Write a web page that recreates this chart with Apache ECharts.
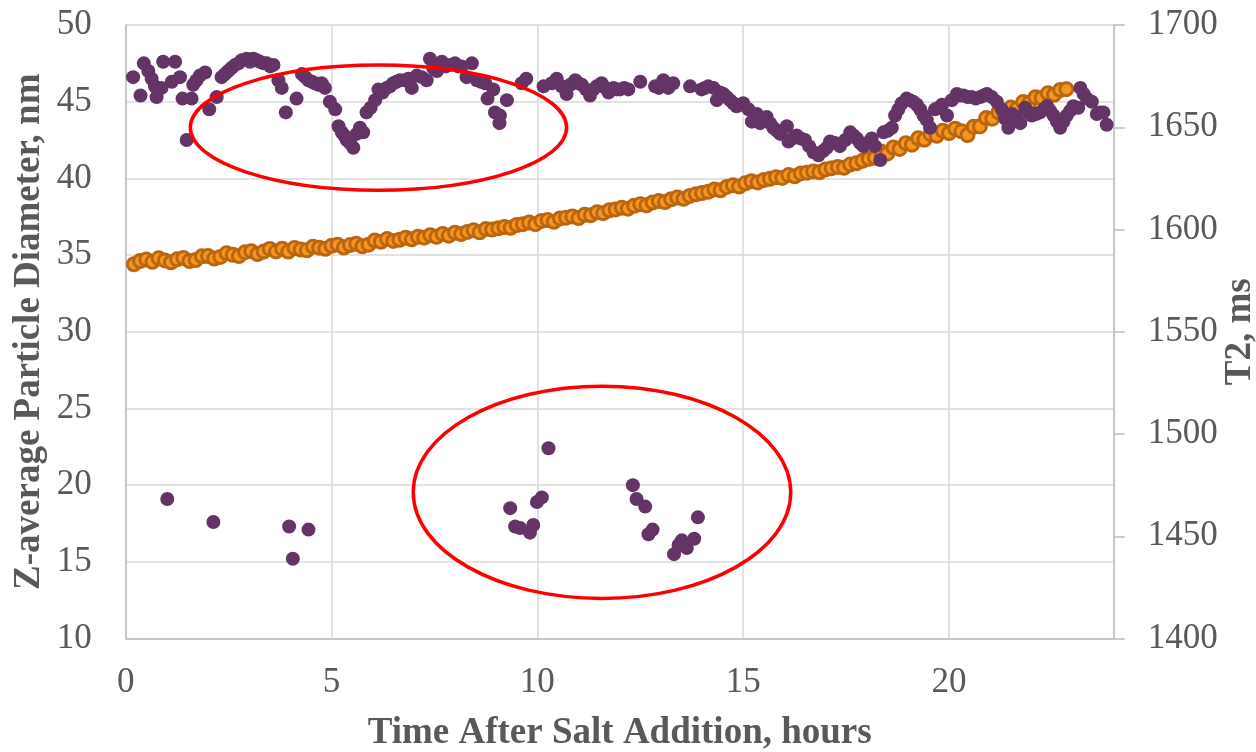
<!DOCTYPE html>
<html>
<head>
<meta charset="utf-8">
<script src="https://cdn.jsdelivr.net/npm/echarts@6/dist/echarts.min.js"></script>
<style>
  html, body { margin: 0; padding: 0; background: #fff; }
  #main { width: 1256px; height: 752px; }
</style>
</head>
<body>
<div id="main"></div>
<script>
// T2 relaxation time (right axis), hours after salt addition
const t2Hours = [
  0.20, 0.35, 0.50, 0.65, 0.80, 0.95, 1.10, 1.25, 1.40, 1.55, 1.70, 1.85, 2.00, 2.15, 2.30, 2.45,
  2.60, 2.75, 2.90, 3.05, 3.20, 3.35, 3.50, 3.65, 3.80, 3.95, 4.10, 4.25, 4.40, 4.55, 4.70, 4.85,
  5.00, 5.15, 5.30, 5.45, 5.60, 5.75, 5.90, 6.05, 6.20, 6.35, 6.50, 6.65, 6.80, 6.95, 7.10, 7.25,
  7.40, 7.55, 7.70, 7.85, 8.00, 8.15, 8.30, 8.45, 8.60, 8.75, 8.90, 9.05, 9.20, 9.35, 9.50, 9.65,
  9.80, 9.95, 10.10, 10.25, 10.40, 10.55, 10.70, 10.85, 11.00, 11.15, 11.30, 11.45, 11.60, 11.75,
  11.90, 12.05, 12.20, 12.35, 12.50, 12.65, 12.80, 12.95, 13.10, 13.25, 13.40, 13.55, 13.70, 13.85,
  14.00, 14.15, 14.30, 14.45, 14.60, 14.75, 14.90, 15.05, 15.20, 15.35, 15.50, 15.65, 15.80, 15.95,
  16.10, 16.25, 16.40, 16.55, 16.70, 16.85, 17.00, 17.15, 17.30, 17.45, 17.60, 17.75, 17.90, 18.05,
  18.20, 18.35, 18.50, 18.65, 18.80, 18.95, 19.10, 19.25, 19.40, 19.55, 19.70, 19.85, 20.00, 20.15,
  20.30, 20.45, 20.60, 20.75, 20.90, 21.05, 21.20, 21.35, 21.50, 21.65, 21.80, 21.95, 22.10, 22.25,
  22.40, 22.55, 22.70, 22.85
];
const t2Values = [
  1583.0, 1584.6, 1585.3, 1584.2, 1585.9, 1584.9, 1584.0, 1585.4, 1586.1, 1584.6, 1585.1, 1586.9, 1587.0, 1585.8, 1586.6, 1588.4,
  1587.6, 1587.0, 1588.9, 1589.4, 1588.0, 1589.2, 1590.5, 1589.3, 1590.6, 1589.2, 1591.0, 1590.2, 1589.8, 1591.6, 1591.1, 1590.6,
  1592.0, 1592.6, 1591.2, 1592.4, 1593.0, 1591.8, 1592.6, 1594.6, 1594.0, 1595.3, 1594.4, 1595.0, 1596.0, 1595.2, 1596.4, 1596.0,
  1597.2, 1596.4, 1597.8, 1597.0, 1598.4, 1597.8, 1598.8, 1599.6, 1598.6, 1600.2, 1600.0, 1600.6, 1601.2, 1600.8, 1602.2, 1602.6,
  1603.4, 1602.6, 1604.2, 1604.6, 1603.8, 1605.4, 1605.8, 1606.4, 1605.6, 1607.2, 1607.0, 1608.4, 1608.0, 1609.4,
  1609.8, 1610.6, 1610.2, 1611.6, 1612.4, 1611.8, 1613.2, 1613.9, 1613.4, 1614.8, 1615.6, 1615.0, 1616.4, 1617.2,
  1617.8, 1618.4, 1619.6, 1619.2, 1620.8, 1621.6, 1621.0, 1622.6, 1623.6, 1623.0, 1624.2, 1624.8, 1625.6, 1625.2,
  1626.6, 1626.0, 1627.4, 1627.8, 1628.4, 1628.0, 1629.4, 1630.0, 1630.6, 1630.2, 1631.8, 1632.4, 1633.6, 1634.6,
  1635.1, 1638.2, 1637.1, 1640.1, 1639.4, 1642.2, 1641.5, 1644.6, 1643.9, 1646.6, 1645.8, 1648.3, 1647.2, 1649.3,
  1648.0, 1646.2, 1650.3, 1650.4, 1654.5, 1654.2, 1657.3, 1656.6, 1659.6, 1659.0, 1662.3, 1662.0, 1664.7, 1664.3,
  1666.6, 1665.9, 1668.2, 1668.6
];

// Z-average particle diameter (left axis)
const zHours = [
  0.18, 0.36, 0.44, 0.55, 0.63, 0.71, 0.75, 0.87, 0.91, 1.01, 1.12, 1.20, 1.32, 1.38, 1.48, 1.60,
  1.64, 1.72, 1.80, 1.93, 2.03, 2.13, 2.21, 2.33, 2.41, 2.49, 2.57, 2.66, 2.74, 2.82, 2.94, 3.02,
  3.10, 3.18, 3.26, 3.35, 3.43, 3.51, 3.59, 3.71, 3.79, 3.89, 3.97, 4.06, 4.15, 4.28, 4.36, 4.44,
  4.44, 4.52, 4.60, 4.68, 4.76, 4.84, 4.96, 5.09, 5.17, 5.25, 5.31, 5.37, 5.45, 5.53, 5.61, 5.69,
  5.77, 5.85, 5.95, 6.06, 6.14, 6.24, 6.34, 6.42, 6.50, 6.58, 6.66, 6.78, 6.87, 6.95, 7.07, 7.19,
  7.31, 7.39, 7.47, 7.56, 7.68, 7.78, 7.88, 8.00, 8.08, 8.16, 8.28, 8.41, 8.53, 8.63, 8.73, 8.79,
  8.93, 8.97, 9.08, 9.09, 9.26, 9.34, 9.46, 9.58, 9.62, 9.73, 9.82, 9.90, 9.99, 10.11, 10.15, 10.27,
  10.35, 10.47, 10.59, 10.71, 10.80, 10.92, 11.00, 11.08, 11.18, 11.28, 11.36, 11.44, 11.56, 11.65,
  11.73, 11.85, 11.93, 12.01, 12.11, 12.21, 12.32, 12.41, 12.50, 12.62, 12.70, 12.80, 12.86, 12.95,
  13.06, 13.18, 13.30, 13.32, 13.43, 13.51, 13.63, 13.71, 13.81, 13.90, 13.99, 14.07, 14.15, 14.28,
  14.36, 14.44, 14.52, 14.60, 14.68, 14.76, 14.84, 14.92, 15.00, 15.13, 15.21, 15.33, 15.41, 15.49,
  15.57, 15.65, 15.73, 15.82, 15.90, 16.06, 16.10, 16.20, 16.30, 16.40, 16.50, 16.60, 16.71, 16.83,
  16.95, 17.03, 17.11, 17.23, 17.35, 17.48, 17.60, 17.68, 17.76, 17.84, 17.92, 18.02, 18.12, 18.20,
  18.33, 18.41, 18.51, 18.61, 18.69, 18.77, 18.85, 18.97, 19.05, 19.13, 19.22, 19.30, 19.38, 19.46,
  19.54, 19.66, 19.75, 19.83, 19.95, 20.07, 20.19, 20.27, 20.35, 20.45, 20.55, 20.65, 20.76, 20.84,
  20.92, 21.04, 21.16, 21.28, 21.36, 21.44, 21.53, 21.63, 21.73, 21.85, 21.93, 22.01, 22.11, 22.21,
  22.30, 22.38, 22.46, 22.54, 22.62, 22.70, 22.78, 22.86, 22.94, 23.02, 23.14, 23.19, 23.27, 23.35,
  23.47, 23.59, 23.67, 23.75, 23.83
];
const zValues = [
  46.6, 45.4, 47.5, 47.0, 46.5, 46.0, 45.3, 45.9, 47.6, 19.1, 46.3, 47.6, 46.6, 45.2, 42.5, 45.2,
  46.1, 46.4, 46.7, 46.9, 44.5, 17.6, 45.3, 46.6, 46.8, 47.0, 47.2, 47.4, 47.5, 47.7, 47.8, 47.6,
  47.8, 47.7, 47.6, 47.5, 47.5, 47.3, 47.4, 46.4, 45.9, 44.3, 17.3, 15.2, 45.2, 46.8, 46.6, 46.4,
  17.1, 46.3, 46.2, 46.1, 46.2, 45.9, 45.0, 44.5, 43.4, 43.0, 42.8, 42.5, 42.3, 42.0, 42.9, 43.3,
  43.0, 44.3, 44.6, 45.1, 45.8, 45.6, 45.9, 46.0, 46.2, 46.3, 46.4, 46.4, 46.5, 45.9, 46.7, 46.6,
  46.4, 47.8, 47.2, 47.0, 47.6, 47.3, 47.4, 47.5, 47.3, 47.3, 46.6, 47.5, 46.4, 46.3, 46.2, 45.2,
  45.8, 44.3, 43.6, 44.1, 45.1, 18.5, 17.3, 17.2, 46.2, 46.5, 16.9, 17.4, 18.9, 19.2, 46.0, 22.4,
  46.2, 46.5, 46.0, 45.5, 46.1, 46.4, 46.2, 46.1, 45.8, 45.4, 45.8, 46.0, 46.2, 45.9,
  45.6, 45.9, 45.8, 45.8, 45.9, 45.8, 20.0, 19.1, 46.3, 18.6, 16.8, 17.1, 46.0, 45.9,
  46.4, 45.9, 46.2, 15.5, 16.1, 16.4, 15.9, 46.0, 16.5, 17.9, 45.8, 45.9, 46.0, 45.9,
  45.1, 45.6, 45.5, 45.3, 45.1, 44.9, 44.7, 44.8, 44.9, 44.5, 43.7, 44.2, 43.6, 43.8,
  44.0, 43.6, 43.3, 43.1, 42.9, 43.4, 42.4, 42.6, 42.8, 42.6, 42.5, 42.1, 41.7, 41.5,
  41.8, 42.0, 42.4, 42.3, 42.1, 42.5, 43.0, 42.8, 42.6, 42.3, 42.1, 42.3, 42.6, 42.1,
  41.2, 43.0, 43.1, 43.3, 44.1, 44.5, 44.9, 45.2, 45.1, 45.0, 44.8, 44.5, 44.1, 43.8,
  43.3, 44.5, 44.6, 44.8, 44.1, 45.1, 45.5, 45.4, 45.4, 45.3, 45.3, 45.2, 45.3, 45.4,
  45.5, 45.3, 45.0, 44.5, 43.9, 43.3, 44.2, 44.0, 43.6, 44.6, 44.3, 44.1, 44.2, 44.3,
  44.5, 44.7, 44.4, 44.1, 43.7, 43.3, 43.7, 44.1, 44.4, 44.7, 44.6, 45.9, 45.5, 45.2,
  45.0, 44.2, 44.3, 44.3, 43.5
];

// red ellipse annotations: [centre hours, centre nm, half-width hours, half-height nm]
const ellipseMarks = [
  [6.14, 43.31, 4.57, 4.08],
  [11.57, 19.53, 4.585, 6.92]
];

const font = "'Liberation Serif', 'Times New Roman', serif";
const txt = '#595959';

const chart = echarts.init(document.getElementById('main'), null, { renderer: 'canvas' });

const option = {
  animation: false,
  backgroundColor: '#fff',
  grid: { left: 125.7, right: 142.3, top: 25, bottom: 113.5, containLabel: false, outerBoundsMode: 'none' },
  xAxis: {
    type: 'value', min: 0, max: 24, interval: 5,
    name: 'Time After Salt Addition, hours', nameLocation: 'middle', nameGap: 76, nameMoveOverlap: false,
    nameTextStyle: { fontFamily: font, fontSize: 37, fontWeight: 'bold', color: txt },
    axisLine: { show: true, lineStyle: { color: '#bfbfbf', width: 1.5 } },
    axisTick: { show: false },
    axisLabel: { fontFamily: font, fontSize: 35, color: txt, margin: 27, showMaxLabel: false },
    splitLine: { show: true, lineStyle: { color: '#d9d9d9', width: 1.5 } }
  },
  yAxis: [{
    type: 'value', min: 10, max: 50, interval: 5, position: 'left',
    name: 'Z-average Particle Diameter, nm', nameLocation: 'middle', nameGap: 78, nameMoveOverlap: false,
    nameTextStyle: { fontFamily: font, fontSize: 37, fontWeight: 'bold', color: txt },
    axisLine: { show: true, lineStyle: { color: '#bfbfbf', width: 1.5 } },
    axisTick: { show: false },
    axisLabel: { fontFamily: font, fontSize: 35, color: txt, margin: 34 },
    splitLine: { show: true, lineStyle: { color: '#d9d9d9', width: 1.5 } }
  }, {
    type: 'value', min: 1400, max: 1700, interval: 50, position: 'right',
    name: 'T2, ms', nameLocation: 'middle', nameGap: 108, nameMoveOverlap: false,
    nameTextStyle: { fontFamily: font, fontSize: 37, fontWeight: 'bold', color: txt },
    axisLine: { show: true, lineStyle: { color: '#bfbfbf', width: 1.5 } },
    axisTick: { show: true, inside: false, length: 11, lineStyle: { color: '#bfbfbf', width: 1.5 } },
    axisLabel: { fontFamily: font, fontSize: 35, color: txt, margin: 34, formatter: v => String(v) },
    splitLine: { show: false }
  }],
  series: [{
    name: 'T2',
    type: 'scatter',
    yAxisIndex: 1,
    symbol: 'circle',
    symbolSize: 13,
    itemStyle: { color: '#F8951F', borderColor: '#BA6610', borderWidth: 3, opacity: 1 },
    data: t2Hours.map((t, i) => [t, t2Values[i]])
  }, {
    name: 'Z-average',
    type: 'scatter',
    yAxisIndex: 0,
    symbol: 'circle',
    symbolSize: 14,
    itemStyle: { color: '#633465', opacity: 1 },
    data: zHours.map((t, i) => [t, zValues[i]])
  }]
};

chart.setOption(option);

// place the annotation ellipses from data coordinates
const ellipses = ellipseMarks.map(e => {
  const c = chart.convertToPixel({ xAxisIndex: 0, yAxisIndex: 0 }, [e[0], e[1]]);
  const r = chart.convertToPixel({ xAxisIndex: 0, yAxisIndex: 0 }, [e[0] + e[2], e[1] + e[3]]);
  return {
    type: 'ellipse',
    z: 100,
    shape: { cx: c[0], cy: c[1], rx: Math.abs(r[0] - c[0]), ry: Math.abs(c[1] - r[1]) },
    style: { fill: null, stroke: '#FF0000', lineWidth: 3.5 }
  };
});
chart.setOption({ graphic: ellipses });
</script>
</body>
</html>
